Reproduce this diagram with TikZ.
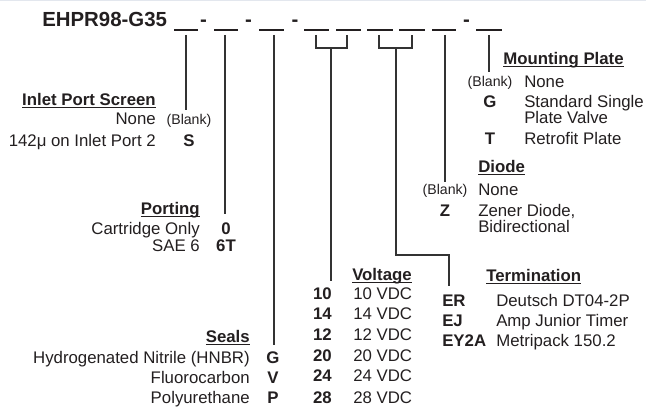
\documentclass[tikz,border=0pt]{standalone}
\usepackage{fontspec}
\setmainfont{Liberation Sans}

\definecolor{ink}{HTML}{231F20}
\definecolor{wirec}{HTML}{333333}
\definecolor{edgec}{HTML}{E3E7EE}

% underlined heading
\newcommand{\ulhead}[1]{\setbox0\hbox{#1}\rlap{\copy0}\rule[-1.8pt]{\wd0}{0.9pt}}

\begin{document}
\begin{tikzpicture}[x=0.75pt, y=-0.75pt,
    txt/.style={inner sep=0pt, text=ink, font=\fontsize{12.6}{15}\selectfont},
    codetxt/.style={inner sep=0pt, text=ink, font=\fontsize{12.6}{15}\selectfont\bfseries},
    blanktxt/.style={inner sep=0pt, text=ink, font=\fontsize{10.6}{12}\selectfont},
    titletxt/.style={inner sep=0pt, text=ink, font=\fontsize{15.3}{18}\selectfont\bfseries},
    slotline/.style={draw=ink, line width=1pt},
    wireline/.style={draw=wirec, line width=0.8pt}]
  \useasboundingbox (0,0) rectangle (646,409);
  \fill[edgec] (0,0) rectangle (646,1.5);

  % Part number
  \node[titletxt, anchor=base west] (title) at (42,27) {EHPR98-G35};
  \foreach \a/\b in {174/198, 214/238, 259/284, 304/329, 336/361, 367/393, 399/425, 432/456, 476/502}
    \draw[slotline] (\a,30) -- (\b,30);
  \foreach \x [count=\i] in {203.5, 248.5, 295, 466.5}
    \node[titletxt, anchor=base] (dash\i) at (\x,27) {-};

  % Slots and line ends
  \coordinate (s1) at (186,35);  \coordinate (e1) at (186,110);
  \coordinate (s2) at (225,35);  \coordinate (e2) at (225,214);
  \coordinate (s3) at (274,35);  \coordinate (e3) at (274,345);
  \coordinate (s4) at (316,35);  \coordinate (s5) at (347,35);
  \coordinate (k1) at (331,48);  \coordinate (e4) at (331,281);
  \coordinate (s6) at (379,35);  \coordinate (s7) at (412,35);
  \coordinate (k2) at (396,48);  \coordinate (bend) at (396,255);
  \coordinate (e5) at (449,286);
  \coordinate (s8) at (445,35);  \coordinate (e6) at (445,182);
  \coordinate (s9) at (489,35);  \coordinate (e7) at (489,72);

  \draw[wireline] (s1) -- (e1);
  \draw[wireline] (s2) -- (e2);
  \draw[wireline] (s3) -- (e3);
  \draw[wireline] (s4) |- (k1) -| (s5);
  \draw[wireline] (k1) -- (e4);
  \draw[wireline] (s6) |- (k2) -| (s7);
  \draw[wireline] (k2) -- (bend) -| (e5);
  \draw[wireline] (s8) -- (e6);
  \draw[wireline] (s9) -- (e7);

  % Inlet Port Screen
  \node[codetxt, anchor=base east] (ipsHead) at (156,106) {\ulhead{Inlet Port Screen}};
  \node[txt, anchor=base east] (ipsNone) at (156,125) {None};
  \node[blanktxt, anchor=base] (ipsBlank) at (189,125) {(Blank)};
  \node[txt, anchor=base east] (ipsS) at (156,147) {142μ on Inlet Port 2};
  \node[codetxt, anchor=base] (ipsSc) at (189,147) {S};

  % Porting
  \node[codetxt, anchor=base east] (portHead) at (200,215) {\ulhead{Porting}};
  \node[txt, anchor=base east] (portCart) at (200,235) {Cartridge Only};
  \node[codetxt, anchor=base] (portCartc) at (226,235) {0};
  \node[txt, anchor=base east] (portSae) at (200,252) {SAE 6};
  \node[codetxt, anchor=base] (portSaec) at (226,252) {6T};

  % Seals
  \node[codetxt, anchor=base east] (sealHead) at (250,343) {\ulhead{Seals}};
  \foreach \t/\c/\y [count=\i] in {Hydrogenated Nitrile (HNBR)/G/364, Fluorocarbon/V/384, Polyurethane/P/404} {
    \node[txt, anchor=base east] (seal\i) at (250,\y) {\t};
    \node[codetxt, anchor=base] (sealc\i) at (273,\y) {\c};
  }

  % Voltage
  \node[codetxt, anchor=base west] (voltHead) at (352,281) {\ulhead{Voltage}};
  \foreach \v/\y [count=\i] in {10/300, 14/320, 12/341, 20/362, 24/382, 28/403} {
    \node[codetxt, anchor=base east] (voltc\i) at (332,\y) {\v};
    \node[txt, anchor=base west] (volt\i) at (353,\y) {\v\ VDC};
  }

  % Termination
  \node[codetxt, anchor=base west] (termHead) at (486,282) {\ulhead{Termination}};
  \foreach \c/\t/\y [count=\i] in {ER/Deutsch DT04-2P/307, EJ/Amp Junior Timer/327, EY2A/Metripack 150.2/347} {
    \node[codetxt, anchor=base west] (termc\i) at (442,\y) {\c};
    \node[txt, anchor=base west] (term\i) at (496,\y) {\t};
  }

  % Diode
  \node[codetxt, anchor=base west] (diodeHead) at (478,173) {\ulhead{Diode}};
  \node[blanktxt, anchor=base] (diodeBlank) at (445,195) {(Blank)};
  \node[txt, anchor=base west] (diodeNone) at (478,196) {None};
  \node[codetxt, anchor=base] (diodeZc) at (445,217) {Z};
  \node[txt, anchor=base west] (diodeZ) at (478,217) {Zener Diode,};
  \node[txt, anchor=base west] (diodeZb) at (478,233) {Bidirectional};

  % Mounting Plate
  \node[codetxt, anchor=base west] (mpHead) at (503,65) {\ulhead{Mounting Plate}};
  \node[blanktxt, anchor=base] (mpBlank) at (490,87) {(Blank)};
  \node[txt, anchor=base west] (mpNone) at (524,88) {None};
  \node[codetxt, anchor=base] (mpGc) at (490,108) {G};
  \node[txt, anchor=base west] (mpG) at (524,108) {Standard Single};
  \node[txt, anchor=base west] (mpGb) at (524,124) {Plate Valve};
  \node[codetxt, anchor=base] (mpTc) at (490,145) {T};
  \node[txt, anchor=base west] (mpT) at (524,145) {Retrofit Plate};
\end{tikzpicture}
\end{document}
